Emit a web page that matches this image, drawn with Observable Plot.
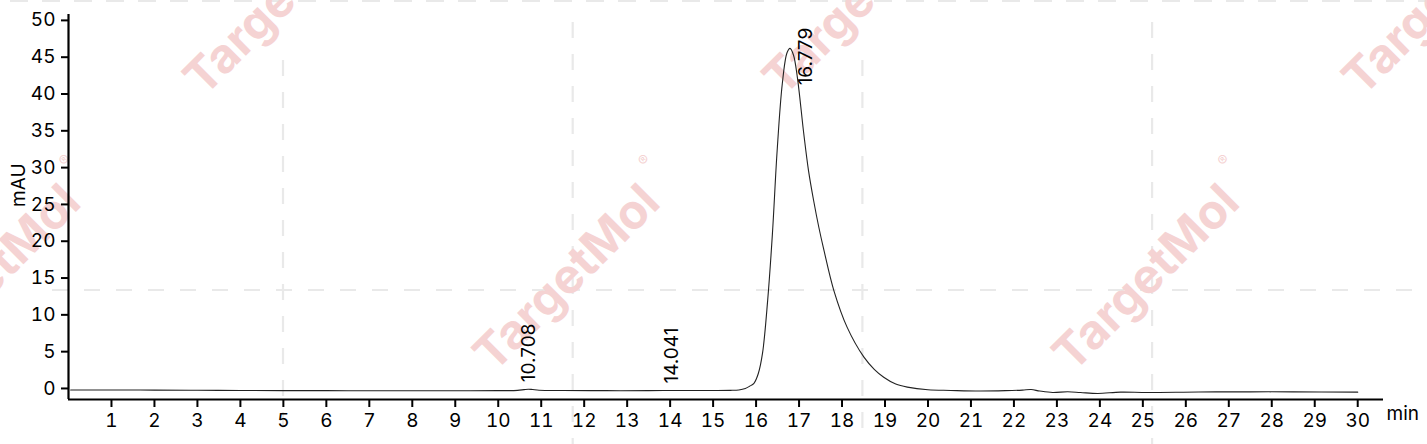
<!DOCTYPE html>
<html><head><meta charset="utf-8">
<script src="https://cdn.jsdelivr.net/npm/d3@7"></script>
<script src="https://cdn.jsdelivr.net/npm/@observablehq/plot@0.6"></script>
<style>
html,body{margin:0;padding:0;background:#fff;}
#wrap{position:relative;width:1427px;height:444px;overflow:hidden;}
#wm{position:absolute;left:0;top:0;}
#chart{position:absolute;left:0;top:0;}
</style></head><body>
<div id="wrap"><svg id="wm" width="1427" height="444"></svg><div id="chart"></div></div>
<script>
// ---- data ----
const times  = [0.05, 1, 2, 3, 4, 5, 6, 7, 8, 9, 10, 10.45, 10.6, 10.7, 10.8, 10.95, 11.5, 12.5, 13.5, 14, 14.5, 15, 15.4, 15.6, 15.75, 15.85, 15.95, 16.05, 16.15, 16.27, 16.38, 16.49, 16.61, 16.72, 16.79, 16.87, 16.96, 17.11, 17.22, 17.34, 17.46, 17.58, 17.81, 18.12, 18.51, 18.75, 18.97, 19.25, 19.52, 20.0, 20.53, 21.2, 21.8, 22.2, 22.4, 22.6, 22.9, 23.25, 23.55, 23.95, 24.48, 25.1, 26.3, 27.5, 28.5, 30.0];
const values = [-0.20, -0.21, -0.22, -0.25, -0.27, -0.29, -0.30, -0.31, -0.32, -0.32, -0.30, -0.26, -0.16, -0.10, -0.15, -0.24, -0.28, -0.30, -0.30, -0.28, -0.28, -0.28, -0.26, -0.2, 0.0, 0.3, 0.7, 2.0, 4.8, 12.0, 21.0, 32.3, 41.4, 45.6, 46.2, 45.3, 42.3, 34.6, 29.6, 25.5, 21.9, 18.75, 13.3, 8.3, 4.25, 2.6, 1.53, 0.6, 0.18, -0.18, -0.27, -0.35, -0.30, -0.22, -0.15, -0.35, -0.55, -0.45, -0.55, -0.68, -0.50, -0.55, -0.48, -0.46, -0.46, -0.50];
const xTicks = d3.range(1, 31);
const yTicks = d3.range(0, 51, 5);
const peakTimes  = [10.708, 14.041, 16.779];
const peakValues = [-0.10, -0.28, 46.2];
const peakLabels = ["10.708", "14.041", "16.779"];
const xLabel = "min";
const yLabel = "mAU";
const watermarkText = "TargetMol";

// ---- watermark layer (background decoration) ----
const wm = d3.select("#wm");
const dash = "#e9e9e9";
const tile = 289.7;
[0, 1, 2, 3].forEach(k => {
  const x = 283 + tile * k;
  wm.append("line").attr("x1", x).attr("x2", x).attr("y1", k % 2 ? 22 : 60).attr("y2", 444)
    .attr("stroke", dash).attr("stroke-width", 2.2).attr("stroke-dasharray", "16 16");
});
wm.append("line").attr("x1", 52).attr("x2", 1427).attr("y1", 290).attr("y2", 290)
  .attr("stroke", dash).attr("stroke-width", 2.2).attr("stroke-dasharray", "16 16");
wm.append("line").attr("x1", 10).attr("x2", 1427).attr("y1", 1).attr("y2", 1)
  .attr("stroke", dash).attr("stroke-width", 2.2).attr("stroke-dasharray", "18 14");
const centers = [];
for (let k = -1; k <= 5; k++) {
  const cx = 283 + tile * k - 4;
  centers.push([cx, (Math.abs(k) % 2 === 1) ? 280 : 4]);
}
centers.forEach(([cx, cy]) => {
  const g = wm.append("g").attr("transform", `translate(${cx},${cy}) rotate(-45)`);
  g.append("text").attr("text-anchor", "middle").attr("dominant-baseline", "middle")
    .attr("font-family", "Inter, 'Open Sans', sans-serif").attr("font-weight", 700)
    .attr("font-size", 48).attr("fill", "#f5d3d3").text(watermarkText);
  g.append("text").attr("x", 138).attr("y", -26).attr("text-anchor", "middle")
    .attr("font-family", "Inter, sans-serif").attr("font-size", 15).attr("fill", "#f5d3d3").text("®");
});

// ---- chart ----
const data = times.map((t, i) => ({t, v: values[i]}));
const peaks = peakTimes.map((t, i) => ({t, v: peakValues[i], label: peakLabels[i]}));
const font = "Inter, 'Noto Sans', sans-serif";
const fs = 19;
const chart = Plot.plot({
  width: 1427, height: 444,
  marginLeft: 68, marginRight: 44, marginTop: 14, marginBottom: 45,
  style: {fontFamily: font, fontSize: fs + "px", color: "#000", background: "transparent", overflow: "visible"},
  x: {domain: [0, 30.6]},
  y: {domain: [-1.5, 50.8]},
  marks: [
    Plot.line(data, {x: "t", y: "v", stroke: "#222", strokeWidth: 1.1, curve: "catmull-rom"}),
    Plot.axisX({ticks: xTicks, tickSize: 8, tickPadding: 6, tickFormat: d => String(d), strokeWidth: 2, label: null, fontSize: fs}),
    Plot.axisY({ticks: yTicks, tickSize: 7, tickPadding: 6, tickFormat: d => String(d), strokeWidth: 2, label: null, fontSize: fs}),
    Plot.ruleY([-1.5], {stroke: "#000", strokeWidth: 2.2}),
    Plot.ruleX([0], {stroke: "#000", strokeWidth: 2.2}),
    Plot.text(peaks.slice(0, 2), {x: "t", y: "v", text: "label", rotate: -90, textAnchor: "start", dy: -7, fontSize: fs, fill: "#000"}),
    Plot.text(peaks.slice(2), {x: "t", y: "v", text: "label", rotate: -90, textAnchor: "start", dx: 16, dy: 37, fontSize: fs, fill: "#000"}),
    Plot.text([xLabel], {text: d => d, frameAnchor: "bottom-right", textAnchor: "start", dx: 3, dy: 20, fontSize: fs, fill: "#000"}),
    Plot.text([yLabel], {text: d => d, frameAnchor: "left", rotate: -90, dx: -50, fontSize: fs, fill: "#000"})
  ]
});
document.getElementById("chart").append(chart);
</script>
</body></html>
